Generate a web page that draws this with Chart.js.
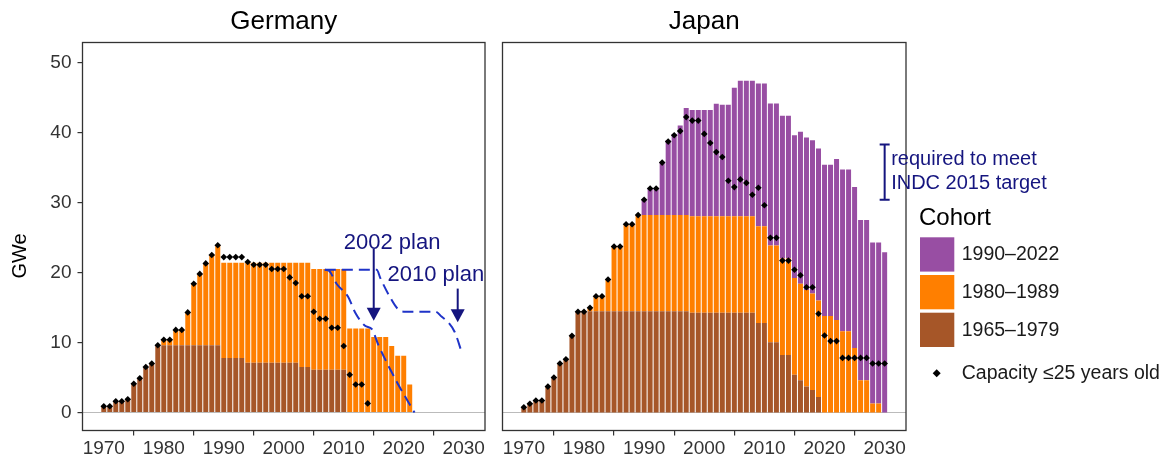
<!DOCTYPE html>
<html>
<head>
<meta charset="utf-8">
<script src="https://cdn.jsdelivr.net/npm/chart.js@4.4.1/dist/chart.umd.min.js"></script>
<style>
body { margin: 0; background: #fff; width: 1169px; height: 461px; overflow: hidden; position: relative; }
canvas { position: absolute; top: 0; }
#de { left: 0; }
#jp { left: 490px; }
</style>
</head>
<body>
<canvas id="de" width="490" height="461"></canvas>
<canvas id="jp" width="679" height="461"></canvas>
<script>
// ---- data (GWe) ----
var deYears = [1970,1971,1972,1973,1974,1975,1976,1977,1978,1979,
  1980,1981,1982,1983,1984,1985,1986,1987,1988,1989,
  1990,1991,1992,1993,1994,1995,1996,1997,1998,1999,
  2000,2001,2002,2003,2004,2005,2006,2007,2008,2009,
  2010,2011,2012,2013,2014,2015,2016,2017,2018,2019,
  2020,2021];
var deBrown = [0.9,0.9,1.6,1.6,1.9,4.1,4.9,6.5,7.0,9.6,
  9.6,9.6,9.6,9.6,9.6,9.6,9.6,9.6,9.6,9.6,
  7.8,7.8,7.8,7.8,7.1,7.1,7.1,7.1,7.1,7.1,
  7.1,7.1,7.1,6.5,6.5,6.1,6.1,6.1,6.1,6.1,
  6.1,0,0,0,0,0,0,0,0,0,
  0,0];
var deOrange = [0,0,0,0,0,0,0,0,0,0,
  0.8,0.8,2.2,2.2,4.7,8.8,10.2,11.7,12.9,14.3,
  13.6,13.6,13.6,13.6,14.3,14.3,14.3,14.3,14.3,14.3,
  14.3,14.3,14.3,14.9,14.9,14.4,14.4,14.4,14.4,14.4,
  14.4,12.0,12.0,12.0,12.0,10.8,10.8,10.8,9.5,8.1,
  8.1,4.0];
var deYoung = [0.9,0.9,1.6,1.6,1.9,4.1,4.9,6.5,7.0,9.6,
  10.4,10.4,11.8,11.8,14.3,18.4,19.8,21.3,22.5,23.9,
  22.2,22.2,22.2,22.2,21.5,21.1,21.1,21.1,20.5,20.5,
  20.5,19.3,18.5,16.6,16.6,14.4,13.4,13.4,12.1,12.1,
  9.5,5.4,4.0,4.0,1.3];

var plan2002X = [2006.85,2007.6,2008.8,2010.75,2011.9,2013.55,2014.7,2015.8,2018.9,2021.8];
var plan2002Y = [20.4,20.2,18.4,16.5,14.3,12.4,11.9,9.6,4.3,0];
var plan2010X = [2006.85,2015.5,2016.1,2017.7,2019.0,2020.0,2025.3,2026.3,2027.5,2028.5,2029.75];
var plan2010Y = [20.4,20.4,19.2,16.5,14.8,14.4,14.4,13.7,12.8,11.5,8.4];

var jpYears = [1970,1971,1972,1973,1974,1975,1976,1977,1978,1979,
  1980,1981,1982,1983,1984,1985,1986,1987,1988,1989,
  1990,1991,1992,1993,1994,1995,1996,1997,1998,1999,
  2000,2001,2002,2003,2004,2005,2006,2007,2008,2009,
  2010,2011,2012,2013,2014,2015,2016,2017,2018,2019,
  2020,2021,2022,2023,2024,2025,2026,2027,2028,2029,2030];
var jpBrown = [0.76,1.24,1.71,1.71,3.7,5.0,7.0,7.6,10.95,14.45,
  14.45,14.45,14.45,14.45,14.45,14.45,14.45,14.45,14.45,14.45,
  14.45,14.45,14.45,14.45,14.45,14.45,14.45,14.45,14.25,14.25,
  14.25,14.25,14.25,14.25,14.25,14.25,14.25,14.25,14.25,12.8,
  12.8,10.05,10.05,8.2,8.2,5.4,4.6,3.7,3.2,2.2,
  0,0,0,0,0,0,0,0,0,0,0];
var jpOrange = [0,0,0,0,0,0,0,0,0,0,
  0,0.5,2.15,2.15,4.55,9.25,9.25,12.45,12.45,13.75,
  13.75,13.75,13.75,13.75,13.75,13.75,13.75,13.75,13.8,13.8,
  13.8,13.8,13.8,13.8,13.8,13.8,13.8,13.8,13.8,13.8,
  13.8,13.8,13.8,13.8,13.8,13.8,13.8,13.8,13.8,13.8,
  13.8,13.8,13.2,11.6,11.6,9.2,4.6,4.6,1.3,1.3,0];
var jpPurple = [0,0,0,0,0,0,0,0,0,0,
  0,0,0,0,0,0,0,0,0,0,
  2.15,3.75,3.75,7.45,10.7,11.6,12.8,15.3,15.15,15.15,
  15.15,15.15,16.05,15.9,15.9,18.35,19.35,19.35,19.35,20.4,
  20.4,20.3,20.3,20.4,20.4,20.4,21.7,21.8,21.9,21.7,
  21.6,21.6,23.0,23.1,23.1,23.0,22.9,22.9,23.0,23.0,22.9];
var jpYoung = [0.76,1.24,1.71,1.71,3.7,5.0,7.0,7.6,10.95,14.4,
  14.4,14.95,16.6,16.6,19.0,23.7,23.7,26.9,26.9,28.2,
  30.4,32.0,32.0,35.7,38.7,39.6,40.2,42.2,41.7,41.7,
  39.8,38.5,37.2,36.5,33.1,32.2,33.3,32.8,31.1,32.1,
  29.6,24.95,24.95,21.7,21.7,20.4,19.6,17.9,17.9,14.1,
  11.0,10.2,10.2,7.8,7.8,7.8,7.8,7.8,7.0,7.0,7.0];
var jpIndcRange = [30.4, 38.3];

var cohortNames = ['1990\u20132022', '1980\u20131989', '1965\u20131979'];
var youngName = 'Capacity \u226425 years old';
var xTicks = [1970, 1980, 1990, 2000, 2010, 2020, 2030];
var yTicks = [0, 10, 20, 30, 40, 50];

// ---- styles ----
var PURPLE = '#984EA3', ORANGE = '#FF7F00', BROWN = '#A65628';
var NAVY = '#15157f', DASH = '#1f33c8';
var FONT = '"Liberation Sans", Arial, Helvetica, sans-serif';
Chart.defaults.font.family = FONT;
Chart.defaults.color = '#1a1a1a';

function pairs(xs, ys) {
  var out = [];
  for (var i = 0; i < ys.length; i++) if (ys[i] != null) out.push({x: xs[i], y: ys[i]});
  return out;
}
function bars(label, xs, ys, color) {
  return {type: 'bar', label: label, data: pairs(xs, ys), backgroundColor: color,
    borderWidth: 0, barPercentage: 0.83, categoryPercentage: 1};
}
function diamonds(xs, ys) {
  return {type: 'line', label: youngName, data: pairs(xs, ys), showLine: false, stack: 'pts', order: -2,
    pointStyle: 'rectRot', pointRadius: 3.3, pointBackgroundColor: '#000', pointBorderWidth: 0};
}
function planLine(label, xs, ys) {
  return {type: 'line', label: label, data: pairs(xs, ys), stack: label, order: -1,
    borderColor: DASH, borderWidth: 2, borderDash: [11, 6], pointRadius: 0,
    cubicInterpolationMode: 'monotone', fill: false};
}

// zero line + panel box
var panelPlugin = {
  id: 'panel',
  beforeDatasetsDraw: function(chart) {
    var ctx = chart.ctx, a = chart.chartArea, y0 = chart.scales.y.getPixelForValue(0);
    ctx.save();
    ctx.strokeStyle = '#bbbbbb'; ctx.lineWidth = 1;
    ctx.beginPath(); ctx.moveTo(a.left, y0); ctx.lineTo(a.right, y0); ctx.stroke();
    ctx.restore();
  },
  afterDraw: function(chart) {
    var ctx = chart.ctx, a = chart.chartArea;
    ctx.save();
    ctx.strokeStyle = '#333'; ctx.lineWidth = 1.3;
    ctx.strokeRect(a.left, a.top, a.right - a.left, a.bottom - a.top);
    ctx.restore();
  }
};

function arrow(ctx, x, yFrom, yTip) {
  ctx.strokeStyle = NAVY; ctx.fillStyle = NAVY; ctx.lineWidth = 2;
  ctx.beginPath(); ctx.moveTo(x, yFrom); ctx.lineTo(x, yTip - 10); ctx.stroke();
  ctx.beginPath(); ctx.moveTo(x - 7, yTip - 13); ctx.lineTo(x + 7, yTip - 13); ctx.lineTo(x, yTip);
  ctx.closePath(); ctx.fill();
}

var germanyNotes = {
  id: 'germanyNotes',
  afterDatasetsDraw: function(chart) {
    var ctx = chart.ctx, xs = chart.scales.x, ys = chart.scales.y;
    ctx.save();
    ctx.font = '22px ' + FONT; ctx.fillStyle = NAVY;
    ctx.textAlign = 'left'; ctx.textBaseline = 'middle';
    ctx.fillText('2002 plan', xs.getPixelForValue(2010), ys.getPixelForValue(24.2));
    ctx.fillText('2010 plan', xs.getPixelForValue(2017.3), ys.getPixelForValue(19.6));
    arrow(ctx, xs.getPixelForValue(2015), ys.getPixelForValue(23.4), ys.getPixelForValue(13.1));
    arrow(ctx, xs.getPixelForValue(2029), ys.getPixelForValue(17.7), ys.getPixelForValue(12.9));
    ctx.restore();
  },
  afterDraw: function(chart) {
    var ctx = chart.ctx;
    ctx.save();
    ctx.translate(20, 256); ctx.rotate(-Math.PI / 2);
    ctx.font = '20px ' + FONT; ctx.fillStyle = '#000';
    ctx.textAlign = 'center'; ctx.textBaseline = 'middle';
    ctx.fillText('GWe', 0, 0);
    ctx.restore();
  }
};

var japanNotes = {
  id: 'japanNotes',
  afterDraw: function(chart) {
    var ctx = chart.ctx, xs = chart.scales.x, ys = chart.scales.y;
    var bx = xs.getPixelForValue(2030), y1 = ys.getPixelForValue(jpIndcRange[0]), y2 = ys.getPixelForValue(jpIndcRange[1]);
    ctx.save();
    ctx.strokeStyle = NAVY; ctx.lineWidth = 2;
    ctx.beginPath();
    ctx.moveTo(bx, y1); ctx.lineTo(bx, y2);
    ctx.moveTo(bx - 5, y1); ctx.lineTo(bx + 5, y1);
    ctx.moveTo(bx - 5, y2); ctx.lineTo(bx + 5, y2);
    ctx.stroke();
    ctx.font = '20px ' + FONT; ctx.fillStyle = NAVY;
    ctx.textAlign = 'left'; ctx.textBaseline = 'middle';
    ctx.fillText('required to meet', bx + 6.5, ys.getPixelForValue(36.1));
    ctx.fillText('INDC 2015 target', bx + 6.5, ys.getPixelForValue(32.7));

    // legend
    var lx = 430;
    ctx.fillStyle = '#000'; ctx.font = '24px ' + FONT;
    ctx.fillText('Cohort', lx - 1, 218);
    var cols = [PURPLE, ORANGE, BROWN];
    ctx.font = '19.5px ' + FONT;
    for (var i = 0; i < 3; i++) {
      var top = 237.3 + i * 37.7;
      ctx.fillStyle = cols[i];
      ctx.fillRect(lx, top, 34.3, 34.3);
      ctx.fillStyle = '#1a1a1a';
      ctx.fillText(cohortNames[i], lx + 41.7, top + 17.5);
    }
    ctx.fillStyle = '#000';
    ctx.beginPath();
    ctx.moveTo(lx + 16.7, 369.3); ctx.lineTo(lx + 20.7, 373.3);
    ctx.lineTo(lx + 16.7, 377.3); ctx.lineTo(lx + 12.7, 373.3);
    ctx.closePath(); ctx.fill();
    ctx.fillStyle = '#1a1a1a';
    ctx.fillText(youngName, lx + 41.7, 373.3);
    ctx.restore();
  }
};

function panelOptions(title, showY) {
  return {
    responsive: false,
    animation: false,
    layout: {padding: showY ? {left: 0, right: 5, top: 0, bottom: 0} : {left: 12.5, right: 263, top: 0, bottom: 0}},
    plugins: {
      legend: {display: false},
      tooltip: {enabled: false},
      title: {display: true, text: title, fullSize: false, color: '#000',
        font: {size: 26, weight: 'normal'}, padding: {top: 6, bottom: 5.3}}
    },
    scales: {
      x: {
        type: 'linear', min: 1966.45, max: 2033.55, offset: false, stacked: true,
        afterBuildTicks: function(s) { s.ticks = xTicks.map(function(v) { return {value: v}; }); },
        afterFit: function(s) { s.height = 30.5; },
        grid: {drawOnChartArea: false, drawTicks: true, tickLength: 5, color: '#333', lineWidth: 1.2},
        border: {display: false},
        ticks: {callback: function(v) { return String(v); }, font: {size: 19}, color: '#333',
          padding: 2, maxRotation: 0, autoSkip: false}
      },
      y: {
        display: showY, min: -2.571, max: 52.857, stacked: true,
        afterBuildTicks: function(s) { s.ticks = yTicks.map(function(v) { return {value: v}; }); },
        afterFit: function(s) { s.width = showY ? 82.5 : 0; },
        grid: {drawOnChartArea: false, drawTicks: true, tickLength: 5, color: '#333', lineWidth: 1.2},
        border: {display: false},
        ticks: {font: {size: 19}, color: '#333', padding: 6}
      }
    }
  };
}

new Chart(document.getElementById('de'), {
  type: 'bar',
  data: {datasets: [
    bars(cohortNames[2], deYears, deBrown, BROWN),
    bars(cohortNames[1], deYears, deOrange, ORANGE),
    planLine('2002 plan', plan2002X, plan2002Y),
    planLine('2010 plan', plan2010X, plan2010Y),
    diamonds(deYears, deYoung)
  ]},
  options: panelOptions('Germany', true),
  plugins: [panelPlugin, germanyNotes]
});

new Chart(document.getElementById('jp'), {
  type: 'bar',
  data: {datasets: [
    bars(cohortNames[2], jpYears, jpBrown, BROWN),
    bars(cohortNames[1], jpYears, jpOrange, ORANGE),
    bars(cohortNames[0], jpYears, jpPurple, PURPLE),
    diamonds(jpYears, jpYoung)
  ]},
  options: panelOptions('Japan', false),
  plugins: [panelPlugin, japanNotes]
});
</script>
</body>
</html>
